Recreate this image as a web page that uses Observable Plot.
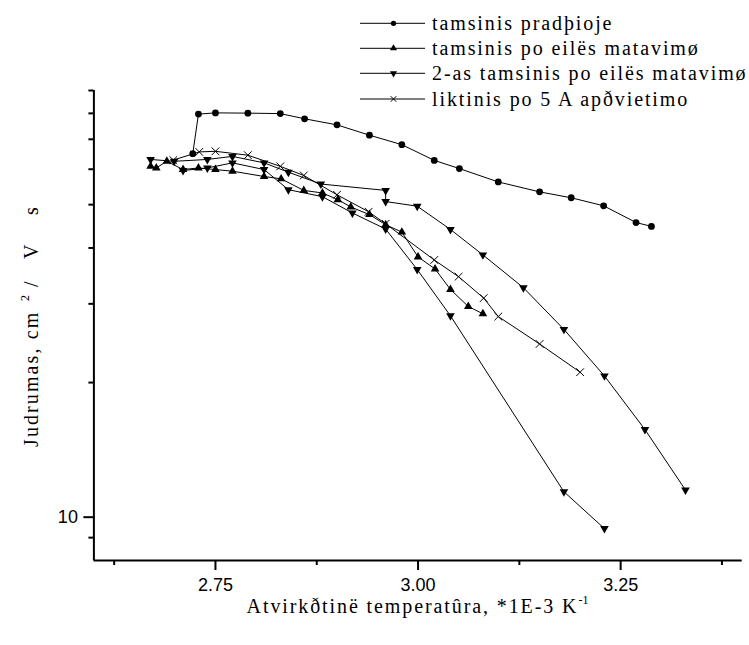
<!DOCTYPE html>
<html>
<head>
<meta charset="utf-8">
<script src="https://cdn.jsdelivr.net/npm/d3@7"></script>
<script src="https://cdn.jsdelivr.net/npm/@observablehq/plot@0.6"></script>
<style>
  html, body { margin: 0; padding: 0; background: #fff; }
  #chart { width: 749px; height: 645px; }
</style>
</head>
<body>
<div id="chart"></div>
<script>
// ---- data ----
const xCircle = [2.722, 2.729, 2.750, 2.790, 2.830, 2.860, 2.900, 2.940, 2.980, 3.020, 3.051, 3.099, 3.150, 3.189, 3.229, 3.269, 3.288];
const yCircle = [65.0, 79.7, 80.2, 80.1, 79.9, 77.8, 75.4, 71.5, 68.1, 62.8, 60.2, 56.2, 53.4, 51.8, 49.7, 45.6, 44.7];

const xUp = [2.670, 2.677, 2.690, 2.710, 2.729, 2.750, 2.771, 2.810, 2.831, 2.859, 2.882, 2.901, 2.917, 2.940, 2.960, 2.980, 3.000, 3.021, 3.040, 3.062, 3.080];
const yUp = [60.9, 60.4, 62.5, 59.9, 60.4, 59.9, 59.4, 57.8, 57.1, 53.8, 53.1, 51.3, 49.4, 47.5, 45.1, 43.4, 38.2, 35.9, 32.3, 29.6, 28.5];

const xDown = [2.670, 2.699, 2.740, 2.771, 2.810, 2.840, 2.880, 2.960, 2.960, 2.999, 3.040, 3.080, 3.130, 3.180, 3.230, 3.280, 3.330];
const yDown = [63.1, 62.5, 63.1, 64.1, 62.0, 59.1, 55.6, 53.8, 50.8, 49.6, 44.0, 38.6, 32.6, 26.3, 20.7, 15.7, 11.5];

const xDownB = [2.710, 2.740, 2.771, 2.810, 2.840, 2.882, 2.919, 2.960, 2.999, 3.040, 3.180, 3.230];
const yDownB = [59.6, 60.4, 62.0, 59.9, 54.0, 52.1, 47.9, 44.1, 35.8, 28.2, 11.4, 9.43];

const xCross = [2.698, 2.730, 2.750, 2.790, 2.830, 2.859, 2.900, 2.939, 2.960, 3.020, 3.050, 3.081, 3.099, 3.150, 3.200];
const yCross = [62.9, 65.6, 65.8, 64.5, 60.9, 58.1, 52.6, 48.2, 45.3, 37.6, 34.5, 30.9, 28.1, 24.4, 21.1];

const seriesNames = ["tamsinis pradþioje", "tamsinis po eilës matavimø", "2-as tamsinis po eilës matavimø", "liktinis po 5 A apðvietimo"];
const xMajorTicks = [2.75, 3.00, 3.25];
const xMinorTicks = [2.625, 2.875, 3.125, 3.375];
const yMajorTicks = [10];
const yMinorTicks = [9, 20, 30, 40, 50, 60, 70, 80, 90];
const xDomain = [2.6, 3.4];
const yDomain = [8, 90];
const xTitle = "Atvirkðtinë temperatûra, *1E-3 K";
const xTitleSup = "-1";
const yTitleParts = ["Judrumas, cm", "2", "/", "V", "s"];

// ---- build tables ----
const zipXY = (xs, ys) => xs.map((x, i) => ({x, y: ys[i]}));
const circleData = zipXY(xCircle, yCircle);
const upData = zipXY(xUp, yUp);
const downData = zipXY(xDown, yDown);
const downBData = zipXY(xDownB, yDownB);
const crossData = zipXY(xCross, yCross);

const serif = "'Liberation Serif', 'Times New Roman', serif";
const sans = "'Liberation Sans', Arial, sans-serif";

const chart = Plot.plot({
  width: 749,
  height: 645,
  marginLeft: 93.4,
  marginRight: 7.3,
  marginTop: 90,
  marginBottom: 85,
  style: {background: "#fff", fontFamily: sans, color: "#000"},
  x: {domain: xDomain, label: null},
  y: {type: "log", domain: yDomain, label: null},
  marks: [
    Plot.axisX({ticks: xMajorTicks, tickSize: 10, tickPadding: 8, strokeWidth: 2, fontSize: 18, fontFamily: sans, tickFormat: d => d.toFixed(2), label: null}),
    Plot.axisX({ticks: xMinorTicks, tickSize: 5, strokeWidth: 2, tickFormat: () => "", label: null}),
    Plot.axisY({ticks: yMajorTicks, tickSize: 10, tickPadding: 6, strokeWidth: 2, fontSize: 18, fontFamily: sans, tickFormat: d => String(d), label: null}),
    Plot.axisY({ticks: yMinorTicks, tickSize: 5, strokeWidth: 2, tickFormat: () => "", label: null}),
    Plot.ruleX([xDomain[0]], {stroke: "black", strokeWidth: 2}),
    Plot.ruleY([yDomain[0]], {stroke: "black", strokeWidth: 2}),
    Plot.line(circleData, {x: "x", y: "y", stroke: "black", strokeWidth: 1}),
    Plot.line(upData, {x: "x", y: "y", stroke: "black", strokeWidth: 1}),
    Plot.line(downData, {x: "x", y: "y", stroke: "black", strokeWidth: 1}),
    Plot.line(downBData, {x: "x", y: "y", stroke: "black", strokeWidth: 1}),
    Plot.line(crossData, {x: "x", y: "y", stroke: "black", strokeWidth: 1}),
    Plot.dot(circleData, {x: "x", y: "y", symbol: "circle", r: 3.4, fill: "black", stroke: "none"}),
    Plot.dot(upData, {x: "x", y: "y", symbol: "triangle", r: 3.2, fill: "black", stroke: "none"}),
    Plot.dot(downData, {x: "x", y: "y", symbol: "triangle", r: 3.2, rotate: 180, fill: "black", stroke: "none"}),
    Plot.dot(downBData, {x: "x", y: "y", symbol: "triangle", r: 3.2, rotate: 180, fill: "black", stroke: "none"}),
    Plot.dot(crossData, {x: "x", y: "y", symbol: "times", r: 3.6, stroke: "black", strokeWidth: 1, fill: "none"})
  ]
});

document.getElementById("chart").appendChild(chart);

// ---- titles and legend drawn into the same svg ----
const svg = d3.select(chart);

// x title
const xt = svg.append("text")
  .attr("x", 417.5).attr("y", 613)
  .attr("text-anchor", "middle")
  .attr("font-family", serif).attr("font-size", 20)
  .attr("letter-spacing", "1.9px")
  .attr("fill", "black");
xt.append("tspan").text(xTitle);
xt.append("tspan").attr("dy", -9).attr("font-size", 12).attr("letter-spacing", "0px").text(xTitleSup);

// y title (rotated; pieces placed along the text direction)
const yt = svg.append("text")
  .attr("transform", "translate(38,447) rotate(-90)")
  .attr("text-anchor", "start")
  .attr("font-family", serif).attr("font-size", 20)
  .attr("letter-spacing", "2.1px")
  .attr("fill", "black");
yt.append("tspan").attr("x", 0).attr("y", 0).text(yTitleParts[0]);
yt.append("tspan").attr("x", 146).attr("y", -9).attr("font-size", 12).text(yTitleParts[1]);
yt.append("tspan").attr("x", 160).attr("y", 0).text(yTitleParts[2]);
yt.append("tspan").attr("x", 188).attr("y", 0).text(yTitleParts[3]);
yt.append("tspan").attr("x", 232).attr("y", 0).text(yTitleParts[4]);

// legend
const legendSymbols = [
  {type: d3.symbolCircle, size: 22, rot: 0, fill: true},
  {type: d3.symbolTriangle, size: 22, rot: 0, fill: true},
  {type: d3.symbolTriangle, size: 22, rot: 180, fill: true},
  {type: d3.symbolTimes, size: 22, rot: 0, fill: false}
];
const rowY = [23.3, 48.3, 73.3, 99];
const lg = svg.append("g");
seriesNames.forEach((name, i) => {
  const y = rowY[i];
  lg.append("line").attr("x1", 360).attr("x2", 425).attr("y1", y).attr("y2", y)
    .attr("stroke", "black").attr("stroke-width", 1);
  const s = legendSymbols[i];
  lg.append("path")
    .attr("d", d3.symbol().type(s.type).size(s.size)())
    .attr("transform", `translate(393.5,${y}) rotate(${s.rot})`)
    .attr("fill", s.fill ? "black" : "none")
    .attr("stroke", s.fill ? "none" : "black")
    .attr("stroke-width", 1);
  lg.append("text").attr("x", 432).attr("y", y + 6.5)
    .attr("text-anchor", "start")
    .attr("font-family", serif).attr("font-size", 20)
    .attr("letter-spacing", "1.9px")
    .attr("fill", "black").text(name);
});
</script>
</body>
</html>
